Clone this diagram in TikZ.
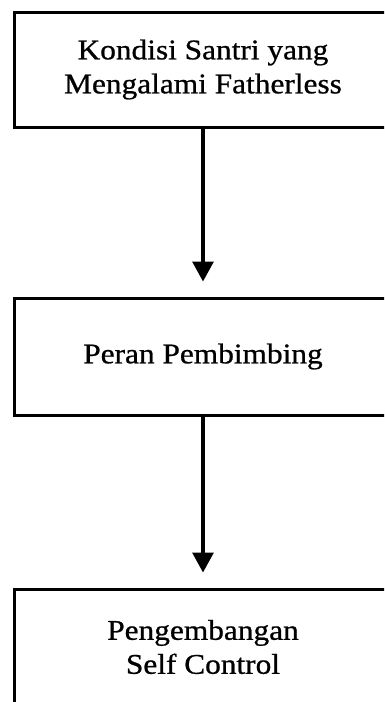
\documentclass[tikz,border=0pt]{standalone}
\usepackage{fontspec}
\setmainfont[FakeStretch=1.1,FakeBold=0.8]{Liberation Serif}
\usetikzlibrary{arrows.meta}
\begin{document}
\begin{tikzpicture}[x=1pt,y=-1pt,
  flowbox/.style={draw=black, line width=3pt, fill=white, minimum width=376.5pt,
    minimum height=115pt, align=center, inner sep=0pt,
    font=\fontsize{28.5}{34}\selectfont},
  flowarrow/.style={line width=3.2pt, -{Triangle[width=21pt,length=20pt]}, shorten >=15pt}]
\clip (0,0) rectangle (384,702);
\fill[white] (0,0) rectangle (384,702);
\node[flowbox] (a) at (203,69.5) {Kondisi Santri yang\\Mengalami Fatherless};
\node[flowbox, minimum height=117pt] (b) at (203,356.5) {Peran Pembimbing};
\node[flowbox, minimum height=116pt] (c) at (203,647) {Pengembangan\\Self Control};
\draw[flowarrow] (a.south) -- (b.north);
\draw[flowarrow] (b.south) -- (c.north);
\end{tikzpicture}
\end{document}
